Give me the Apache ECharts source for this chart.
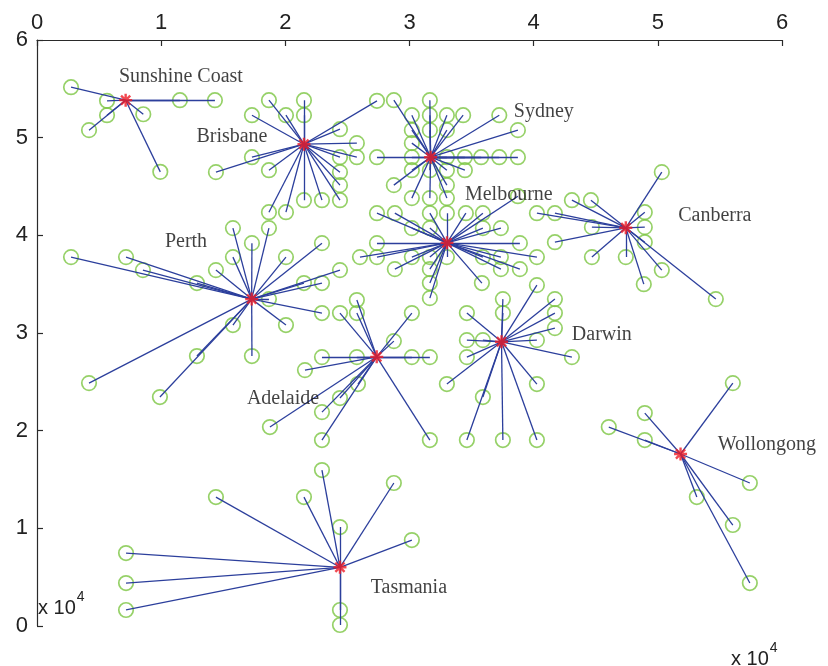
<!DOCTYPE html>
<html><head><meta charset="utf-8">
<script src="https://cdn.jsdelivr.net/npm/echarts@6/dist/echarts.min.js"></script>
<style>html,body{margin:0;padding:0;background:#fff}#c{width:828px;height:666px}</style>
</head><body><div id="c"></div>
<script>
// values in units of 10^4
const xTicks = [0, 1, 2, 3, 4, 5, 6];
const yTicks = [0, 1, 2, 3, 4, 5, 6];

const hubNames = ['Sunshine Coast','Brisbane','Sydney','Melbourne','Canberra','Perth','Adelaide','Darwin','Wollongong','Tasmania'];
const hubX = [0.714, 2.150, 3.170, 3.302, 4.742, 1.729, 2.736, 3.741, 5.183, 2.440];
const hubY = [5.384, 4.933, 4.800, 3.923, 4.077, 3.347, 2.756, 2.910, 1.761, 0.601];

// label anchor positions (centre of each city name)
const labelX = [1.159, 1.570, 4.082, 3.800, 5.459, 1.200, 1.981, 4.549, 5.878, 2.995];
const labelY = [5.619, 5.005, 5.261, 4.411, 4.197, 3.930, 2.323, 2.978, 1.853, 0.389];

const spokesSunshine = [[0.274,5.517],[0.564,5.377],[1.151,5.384],[1.433,5.384],[0.564,5.230],[0.856,5.240],[0.419,5.077],[0.993,4.650]];
const spokesBrisbane = [[1.868,5.384],[2.150,5.384],[2.150,5.230],[2.005,5.230],[1.731,5.230],[2.738,5.377],[2.440,5.087],[2.576,4.944],[2.576,4.800],[2.440,4.800],[2.440,4.647],[2.440,4.514],[2.440,4.360],[2.295,4.360],[2.150,4.360],[2.005,4.237],[1.868,4.237],[1.868,4.667],[1.731,4.800],[1.441,4.647]];
const spokesSydney = [[2.874,5.384],[3.164,5.384],[3.019,5.230],[3.164,5.230],[3.301,5.230],[3.432,5.230],[3.723,5.230],[3.873,5.077],[3.301,5.077],[3.019,5.077],[3.164,5.077],[3.019,4.944],[3.019,4.800],[2.738,4.800],[3.301,4.800],[3.446,4.800],[3.577,4.800],[3.723,4.800],[3.873,4.800],[3.019,4.667],[3.164,4.667],[3.301,4.667],[3.446,4.667],[3.301,4.514],[2.874,4.514],[3.019,4.381],[3.164,4.381],[3.301,4.381]];
const spokesMelbourne = [[2.738,4.227],[2.882,4.227],[3.164,4.227],[3.301,4.227],[3.454,4.227],[3.591,4.227],[3.019,4.074],[3.164,4.074],[3.591,4.074],[3.736,4.074],[2.738,3.920],[3.889,3.920],[2.601,3.777],[2.738,3.777],[3.019,3.777],[3.164,3.777],[3.301,3.777],[3.591,3.777],[3.736,3.777],[4.026,3.777],[2.882,3.654],[3.164,3.654],[3.736,3.654],[3.889,3.654],[3.164,3.511],[3.583,3.511],[3.164,3.357],[3.873,4.401]];
const spokesCanberra = [[5.032,4.647],[4.308,4.360],[4.461,4.360],[4.026,4.227],[4.171,4.227],[4.895,4.237],[4.469,4.084],[4.895,4.084],[4.895,3.930],[4.171,3.930],[4.469,3.777],[4.742,3.777],[5.032,3.644],[4.887,3.500],[5.467,3.347]];
const spokesPerth = [[0.274,3.777],[0.717,3.777],[0.853,3.644],[1.288,3.511],[1.578,4.074],[1.868,4.074],[1.731,3.920],[2.295,3.920],[1.578,3.777],[2.005,3.777],[1.441,3.644],[2.440,3.644],[2.150,3.511],[2.295,3.511],[1.868,3.347],[2.295,3.204],[2.005,3.081],[1.578,3.081],[1.288,2.764],[1.731,2.764],[0.419,2.487],[0.990,2.344]];
const spokesAdelaide = [[2.576,3.337],[2.440,3.204],[2.576,3.204],[3.019,3.204],[2.874,2.917],[2.295,2.753],[2.576,2.753],[3.019,2.753],[3.164,2.753],[2.158,2.620],[2.585,2.477],[2.440,2.334],[2.295,2.190],[1.876,2.037],[2.295,1.904],[3.164,1.904]];
const spokesDarwin = [[4.026,3.490],[3.752,3.347],[4.171,3.347],[3.462,3.204],[3.752,3.204],[4.171,3.204],[4.171,3.050],[3.462,2.927],[3.591,2.927],[4.026,2.927],[3.462,2.753],[4.308,2.753],[3.301,2.477],[4.026,2.477],[3.591,2.344],[3.462,1.904],[3.752,1.904],[4.026,1.904]];
const spokesWollongong = [[5.604,2.487],[4.895,2.180],[4.605,2.037],[4.895,1.904],[5.741,1.464],[5.314,1.320],[5.604,1.034],[5.741,0.440]];
const spokesTasmania = [[2.295,1.597],[1.441,1.320],[2.150,1.320],[2.874,1.464],[2.440,1.013],[3.019,0.880],[0.717,0.747],[0.717,0.440],[0.717,0.164],[2.440,0.164],[2.440,0.010]];

const spokes = [spokesSunshine, spokesBrisbane, spokesSydney, spokesMelbourne, spokesCanberra, spokesPerth, spokesAdelaide, spokesDarwin, spokesWollongong, spokesTasmania];

const circleData = [];
const lineData = [];
spokes.forEach((list, i) => {
  list.forEach(p => {
    circleData.push([p[0], p[1]]);
    lineData.push({ coords: [[hubX[i], hubY[i]], [p[0], p[1]]] });
  });
});
const hubData = hubNames.map((n, i) => [hubX[i], hubY[i]]);
const labelData = hubNames.map((n, i) => ({ name: n, value: [labelX[i], labelY[i]] }));

const chart = echarts.init(document.getElementById('c'));
const axisCol = '#2a2a2a';
const green = '#7cc642';
chart.setOption({
  backgroundColor: '#ffffff',
  animation: false,
  grid: { left: 37, right: 46, top: 40, bottom: 40 },
  xAxis: {
    type: 'value', position: 'top', min: xTicks[0], max: xTicks[xTicks.length - 1], interval: 1,
    axisLine: { show: true, onZero: false, lineStyle: { color: axisCol, width: 1.2 } },
    axisTick: { show: true, inside: true, length: 6, lineStyle: { color: axisCol, width: 1.2 } },
    axisLabel: { color: '#222', fontSize: 22, fontFamily: 'Liberation Sans', margin: 6 },
    splitLine: { show: false }
  },
  yAxis: {
    type: 'value', min: yTicks[0], max: yTicks[yTicks.length - 1], interval: 1,
    axisLine: { show: true, onZero: false, lineStyle: { color: axisCol, width: 1.2 } },
    axisTick: { show: true, inside: true, length: 6, lineStyle: { color: axisCol, width: 1.2 } },
    axisLabel: { color: '#222', fontSize: 22, fontFamily: 'Liberation Sans', margin: 9 },
    splitLine: { show: false }
  },
  series: [
    {
      type: 'scatter', data: circleData, symbol: 'circle', symbolSize: 14.5, z: 2, silent: true, clip: false,
      itemStyle: { color: 'rgba(255,255,255,0)', borderColor: green, borderWidth: 1.7 }
    },
    {
      type: 'lines', coordinateSystem: 'cartesian2d', data: lineData, z: 3, silent: true,
      lineStyle: { color: '#2c3f9c', width: 1.3, opacity: 1 }
    },
    {
      type: 'scatter', data: hubData, z: 4, silent: true,
      symbol: 'path://M0,-10L0,10M-10,0L10,0M-7.07,-7.07L7.07,7.07M-7.07,7.07L7.07,-7.07',
      symbolSize: 13,
      itemStyle: { color: 'rgba(0,0,0,0)', borderColor: '#ee1c25', borderWidth: 2.4 }
    },
    {
      type: 'scatter', data: labelData, z: 5, silent: true, symbolSize: 1,
      itemStyle: { color: 'rgba(0,0,0,0)' },
      label: { show: true, position: 'inside', formatter: p => p.name, color: '#111', fontSize: 20, fontFamily: 'Liberation Serif' }
    }
  ],
  graphic: [
    { type: 'text', left: 38, top: 590, z: 10, style: { text: '{a|x 10}{b|4}', rich: { a: { fontSize: 20, fontFamily: 'Liberation Sans', fill: '#222', padding: [8,0,0,0] }, b: { fontSize: 14, fontFamily: 'Liberation Sans', fill: '#222', verticalAlign: 'top', padding: [0,0,12,1] } } } },
    { type: 'text', left: 731, top: 641, z: 10, style: { text: '{a|x 10}{b|4}', rich: { a: { fontSize: 20, fontFamily: 'Liberation Sans', fill: '#222', padding: [8,0,0,0] }, b: { fontSize: 14, fontFamily: 'Liberation Sans', fill: '#222', verticalAlign: 'top', padding: [0,0,12,1] } } } }
  ]
});
</script></body></html>
